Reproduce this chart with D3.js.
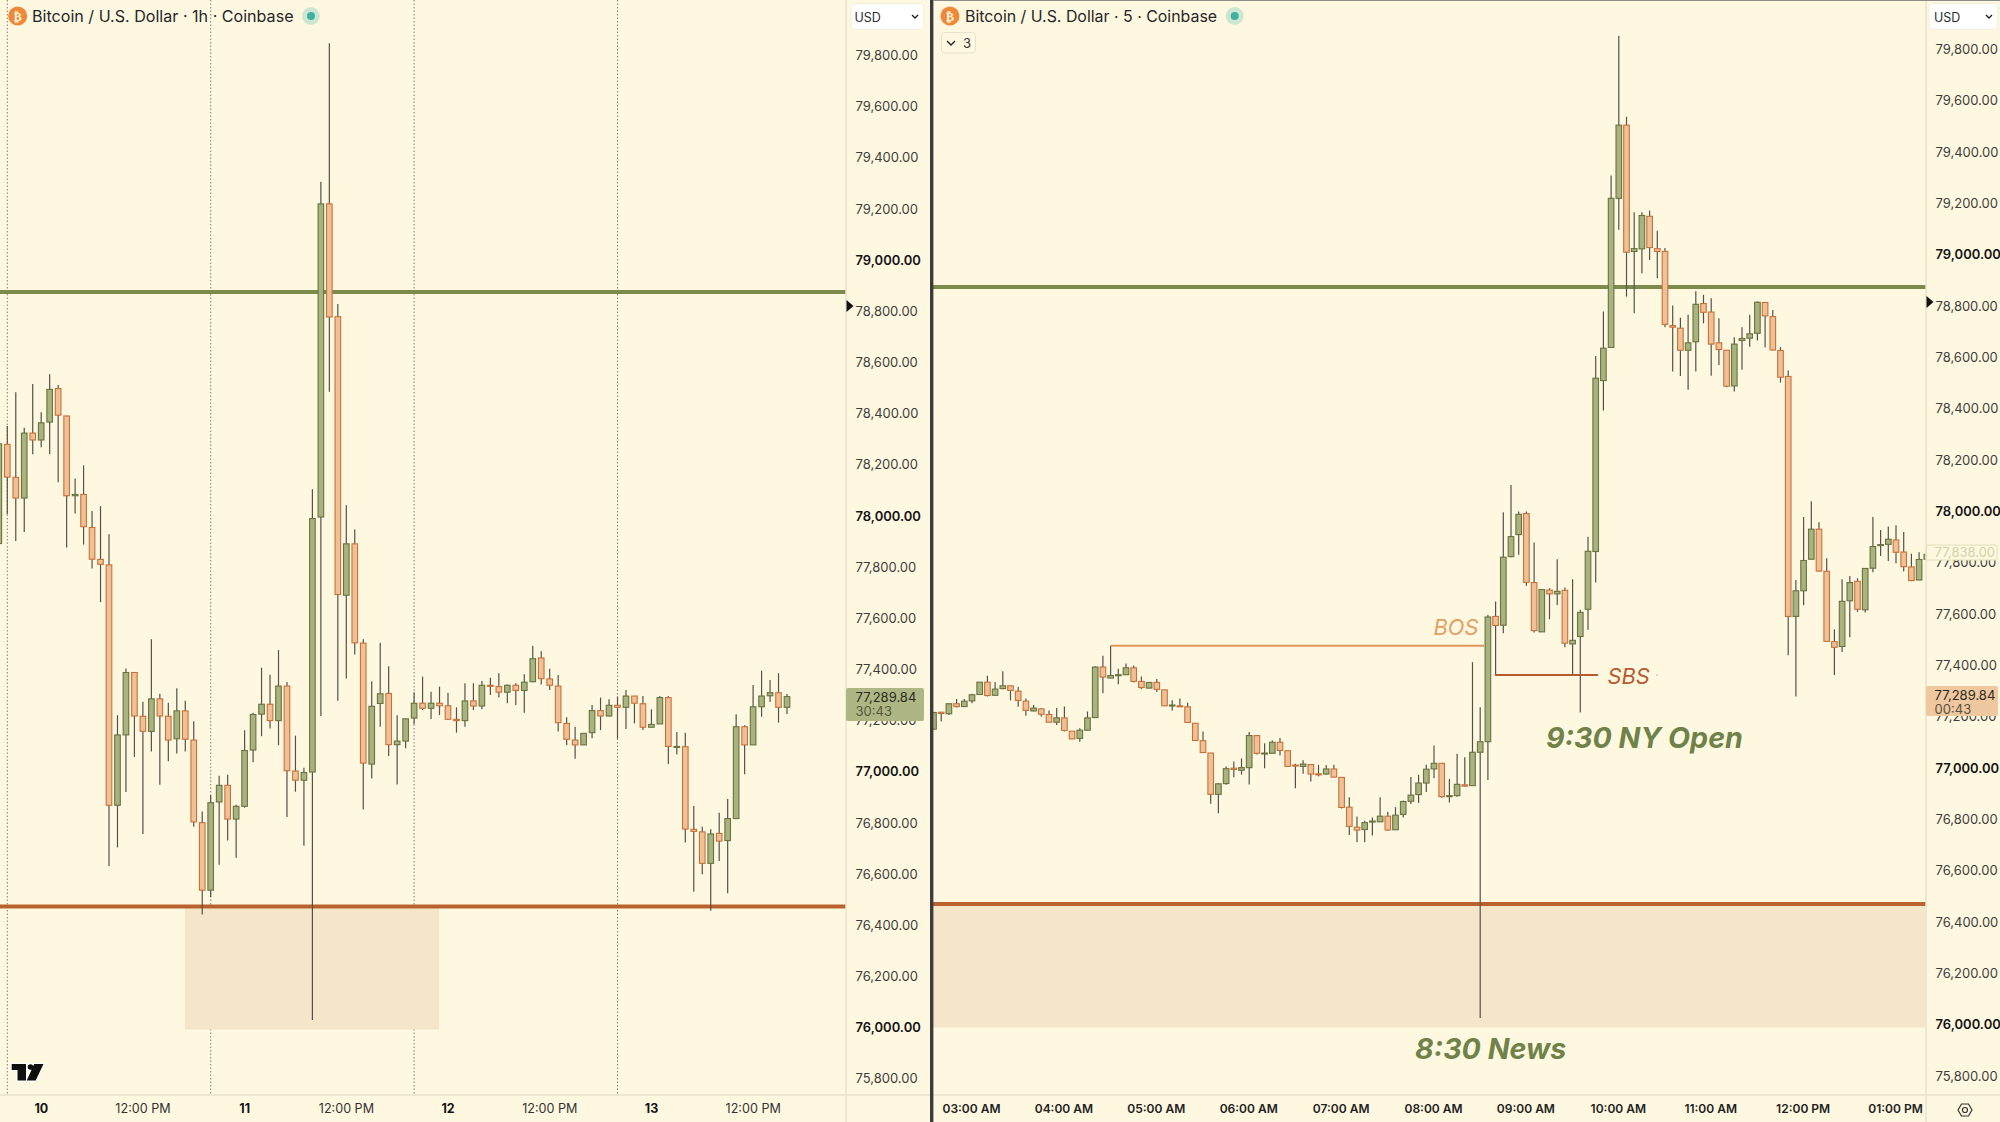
<!DOCTYPE html>
<html>
<head>
<meta charset="utf-8">
<script src="https://cdn.jsdelivr.net/npm/d3@7"></script>
<style>
  html, body { margin: 0; padding: 0; background: #fff8e0; overflow: hidden; }
  svg { display: block; font-family: Inter, "Noto Sans", sans-serif; }
</style>
</head>
<body>
<script>
// 1h candles, left pane
const hourOpen = [77888,78276,78147,78066,78320,78293,78363,78494,78387,78075,
  78080,77951,77826,77805,76865,77140,77384,77213,77154,77281,
  77213,77125,77234,77120,76797,76533,76878,76943,76811,76861,
  77081,77221,77260,77196,77331,76999,76963,76995,77992,79216,
  78775,77686,77887,77499,77026,77263,77302,77102,77116,77206,
  77264,77244,77264,77254,77201,77196,77273,77253,77334,77329,
  77307,77334,77314,77348,77441,77359,77331,77185,77120,77101,
  77149,77235,77214,77256,77248,77292,77262,77170,77183,77286,
  77094,77094,76771,76761,76638,76755,76727,76813,77172,77101,
  77250,77293,77305,77248];
const hourHigh = [78300,78348,78480,78341,78512,78401,78550,78508,78387,78142,
  78194,78015,78035,77925,77217,77400,77384,77270,77514,77301,
  77266,77322,77274,77193,76841,76904,76980,76984,76867,77158,
  77227,77403,77375,77472,77347,77137,77012,78100,79303,79844,
  78825,78038,77943,77514,77350,77500,77408,77217,77203,77307,
  77368,77309,77329,77305,77248,77342,77342,77351,77364,77381,
  77338,77342,77377,77489,77467,77399,77374,77209,77172,77146,
  77257,77286,77279,77290,77316,77292,77292,77240,77292,77292,
  77151,77149,76862,76781,76771,76836,76890,77221,77178,77335,
  77391,77355,77381,77300];
const hourLow = [77884,78003,77898,77933,78237,78265,78237,78128,77873,78006,
  77884,77791,77659,76628,76700,76917,77054,76753,77075,76945,
  77037,77067,77075,76781,76438,76506,76632,76727,76660,76855,
  77033,77135,77165,77100,76819,76918,76707,76026,77214,78482,
  77274,77361,77454,76848,76970,77172,77058,76946,77088,77182,
  77237,77202,77218,77201,77149,77172,77237,77240,77296,77286,
  77264,77257,77227,77346,77337,77316,77153,77101,77047,77101,
  77127,77159,77212,77125,77163,77185,77159,77170,77183,77026,
  77063,76719,76527,76595,76453,76647,76521,76813,76986,77101,
  77211,77269,77188,77222];
const hourClose = [78278,78148,78066,78320,78293,78360,78491,78390,78075,78080,
  77954,77827,77807,76865,77140,77384,77214,77154,77281,77214,
  77120,77234,77123,76800,76533,76875,76943,76811,76861,77079,
  77220,77260,77196,77331,77000,76963,76993,77986,79216,78774,
  77689,77887,77500,77030,77252,77301,77102,77116,77203,77264,
  77244,77264,77254,77201,77196,77273,77253,77334,77330,77307,
  77334,77314,77346,77438,77360,77334,77188,77123,77101,77146,
  77235,77214,77256,77248,77292,77264,77170,77181,77286,77095,
  77095,76772,76763,76638,76753,76725,76813,77172,77101,77250,
  77292,77305,77248,77289.84];

// 5m candles, right pane
const fiveOpen = [77150,77216,77210,77249,77238,77260,77285,77333,77282,77308,
  77319,77298,77259,77221,77229,77207,77177,77194,77142,77114,
  77146,77195,77392,77349,77361,77362,77389,77336,77310,77332,
  77303,77243,77241,77237,77173,77105,77057,76896,76938,76998,
  76990,77000,77125,77056,77056,77099,77066,77010,77005,77012,
  76976,76975,76995,76962,76846,76768,76759,76791,76789,76811,
  76758,76818,76869,76895,76940,76995,77017,76890,76891,76933,
  76930,77060,77101,77589,77555,77822,77908,77990,77721,77529,
  77692,77677,77691,77482,77511,77617,77842,78508,78637,79218,
  79503,79011,79021,79148,79022,79011,78722,78712,78626,78659,
  78808,78775,78655,78626,78487,78664,78673,78692,78812,78757,
  78625,78524,77589,77689,77812,77929,77765,77491,77472,77650,
  77726,77615,77777,77865,77870,77887,77840,77782,77731,77812];
const fiveHigh = [77215,77216,77249,77267,77267,77288,77333,77358,77334,77376,
  77319,77314,77269,77244,77232,77223,77232,77238,77142,77154,
  77219,77395,77436,77475,77385,77406,77398,77355,77334,77345,
  77303,77263,77269,77253,77173,77141,77057,76940,77005,77024,
  77036,77139,77125,77095,77106,77116,77066,77015,77029,77012,
  77011,77010,77011,76962,76885,76810,76793,76806,76885,76828,
  76846,76872,76964,76972,77011,77086,77017,76956,77054,77041,
  77411,77235,77595,77647,77995,78101,77998,77998,77877,77694,
  77699,77812,77702,77734,77615,77900,78604,78777,79307,79851,
  79536,79164,79164,79170,79092,79024,78800,78753,78764,78856,
  78842,78829,78751,78626,78677,78716,78764,78816,78812,78783,
  78638,78547,77731,77976,78038,77956,77816,77539,77734,77747,
  77738,77776,77976,77926,77939,77944,77918,77833,77839,77839];
const fiveLow = [77150,77180,77205,77234,77236,77251,77285,77277,77280,77305,
  77262,77237,77202,77219,77199,77177,77166,77141,77112,77101,
  77144,77195,77290,77349,77325,77362,77332,77306,77308,77295,
  77241,77223,77237,77176,77106,77059,76859,76822,76933,76963,
  76973,76934,77051,76998,77054,77047,77005,76920,76976,76946,
  76966,76972,76963,76841,76738,76709,76709,76736,76789,76754,
  76758,76806,76858,76862,76905,76959,76883,76864,76887,76926,
  76930,76025,76952,77360,77524,77820,77829,77709,77527,77529,
  77578,77634,77469,77360,77215,77537,77721,78391,78637,79095,
  78835,78770,78926,78978,78907,78716,78543,78526,78472,78543,
  78731,78527,78569,78482,78465,78550,78640,78664,78637,78625,
  78500,77438,77277,77633,77812,77763,77492,77361,77451,77508,
  77607,77604,77761,77825,77805,77796,77764,77726,77731,77812];
const fiveClose = [77215,77211,77249,77238,77259,77284,77333,77281,77306,77319,
  77301,77262,77223,77232,77208,77177,77194,77145,77112,77146,
  77194,77392,77353,77359,77362,77389,77336,77312,77332,77305,
  77241,77244,77237,77176,77106,77059,76896,76937,76996,76993,
  77000,77125,77056,77057,77099,77067,77005,77009,77014,76975,
  76972,76995,76963,76845,76771,76757,76786,76792,76811,76757,
  76815,76868,76893,76940,76994,77017,76887,76891,76935,76928,
  77060,77101,77587,77554,77820,77900,77987,77722,77534,77694,
  77677,77687,77485,77496,77605,77843,78517,78634,79218,79503,
  79008,79022,79151,79026,79011,78727,78716,78626,78655,78805,
  78774,78650,78629,78486,78650,78672,78690,78813,78760,78627,
  78521,77589,77689,77807,77929,77766,77492,77469,77648,77721,
  77617,77776,77861,77869,77890,77839,77783,77729,77811,77831];

const priceTicks = [75800,76000,76200,76400,76600,76800,77000,77200,77400,77600,77800,
  78000,78200,78400,78600,78800,79000,79200,79400,79600,79800];
const resistance = [78872];
const support = [76469];
const zoneBottom = [75988];
const lastPrice = [77289.84];
const ghostPrice = [77838];
const bosPrice = [77475];
const sbsPrice = [77361];

const H = 3600000;
const MIN5 = 300000;
const hourStart = Date.UTC(2025, 3, 9, 23);
const fiveStart = Date.UTC(2025, 3, 13, 2, 35);
const hourTicks = d3.range(0, 8).map(i => new Date(Date.UTC(2025, 3, 10) + i * 12 * H));
const fiveTicks = d3.range(0, 11).map(i => new Date(Date.UTC(2025, 3, 13, 3) + i * H));
const dayLines = d3.range(0, 4).map(i => new Date(Date.UTC(2025, 3, 10 + i)));

const width = 2000, height = 1122;
const bottomY = 1095;
const bg = "#fff8e0";

const svg = d3.select("body").append("svg")
  .attr("width", width).attr("height", height);
svg.append("rect").attr("width", width).attr("height", height).attr("fill", bg);

const defs = svg.append("defs");
defs.append("clipPath").attr("id", "clipL").append("rect")
  .attr("x", 0).attr("y", 0).attr("width", 846).attr("height", bottomY);
defs.append("clipPath").attr("id", "clipR").append("rect")
  .attr("x", 933).attr("y", 0).attr("width", 993).attr("height", bottomY);

// scales
const xL = d3.scaleUtc().domain([new Date(Date.UTC(2025, 3, 10)), new Date(Date.UTC(2025, 3, 11))]).range([7.3, 210.7]);
const yL = d3.scaleLinear().domain([79800, 75800]).range([54.5, 1077.7]);
const xR = d3.scaleUtc().domain([new Date(fiveStart), new Date(fiveStart + 128 * MIN5)]).range([933.5, 1919.1]);
const yR = d3.scaleLinear().domain([79800, 75800]).range([48.9, 1075.7]);

function drawCandles(g, start, step, open, high, low, close, x, y) {
  const idx = d3.range(open.length);
  const tx = i => x(new Date(start + i * step));
  g.selectAll("line.wick").data(idx).enter().append("line")
    .attr("class", "wick")
    .attr("x1", tx).attr("x2", tx)
    .attr("y1", i => y(high[i])).attr("y2", i => y(low[i]))
    .attr("stroke", "#52524a").attr("stroke-width", 1.2);
  g.selectAll("rect.body").data(idx).enter().append("rect")
    .attr("class", "body")
    .attr("x", i => tx(i) - 2.8).attr("width", 5.6)
    .attr("y", i => y(Math.max(open[i], close[i])))
    .attr("height", i => Math.max(1, Math.abs(y(open[i]) - y(close[i]))))
    .attr("fill", i => close[i] >= open[i] ? "#a9b37e" : "#eec196")
    .attr("stroke", i => close[i] >= open[i] ? "#667343" : "#c9703a")
    .attr("stroke-width", 1.1);
}

function drawPriceAxis(axisX, y, shift) {
  const ax = svg.append("g").attr("transform", `translate(${axisX},${shift})`)
    .call(d3.axisRight(y).tickValues(priceTicks).tickSize(0).tickPadding(9.5).tickFormat(d3.format(",.2f")));
  ax.select(".domain").remove();
  ax.selectAll("text")
    .attr("font-family", "Inter").attr("font-size", 13)
    .attr("fill", d => d % 1000 === 0 ? "#131313" : "#3d3d3d")
    .attr("font-weight", d => d % 1000 === 0 ? 600 : 400);
}

function drawHeader(label, iconX, textX, dotX, size) {
  svg.append("circle").attr("cx", iconX).attr("cy", 16).attr("r", 9.5).attr("fill", "#f0883a");
  svg.append("text").attr("x", iconX).attr("y", 20.5).attr("text-anchor", "middle")
    .attr("font-family", "DejaVu Sans").attr("font-weight", 700).attr("font-size", 12)
    .attr("fill", "#fff8e0").text("\u20bf");
  svg.append("text").attr("x", textX).attr("y", 22).attr("font-size", size).attr("fill", "#26262a").text(label);
  svg.append("circle").attr("cx", dotX).attr("cy", 16).attr("r", 9).attr("fill", "#cfe6d3");
  svg.append("circle").attr("cx", dotX).attr("cy", 16).attr("r", 4).attr("fill", "#3cb3a0");
}

function drawUsd(x0, x1, tx) {
  svg.append("rect").attr("x", x0).attr("y", 3.5).attr("width", x1 - x0).attr("height", 26)
    .attr("rx", 4).attr("fill", "#ffffff").attr("stroke", "#f3eeda");
  svg.append("text").attr("x", tx).attr("y", 22).attr("font-size", 12.5).attr("fill", "#2f2f33").text("USD");
  svg.append("path").attr("d", `M${x1 - 12},15l3,3l3,-3`).attr("fill", "none").attr("stroke", "#222").attr("stroke-width", 1.4);
}

function drawTag(x0, x1, y0, y1, fill, tx, time, timeFill) {
  svg.append("rect").attr("x", x0).attr("y", y0).attr("width", x1 - x0).attr("height", y1 - y0)
    .attr("rx", 2).attr("fill", fill);
  svg.append("text").attr("x", tx).attr("y", y0 + 14).attr("font-size", 13).attr("fill", "#2b2b22")
    .text(d3.format(",.2f")(lastPrice[0]));
  svg.append("text").attr("x", tx).attr("y", y0 + 28).attr("font-size", 13).attr("fill", timeFill).text(time);
}

// left pane
const left = svg.append("g").attr("clip-path", "url(#clipL)");
left.selectAll("line.day").data(dayLines).enter().append("line")
  .attr("class", "day")
  .attr("x1", d => xL(d)).attr("x2", d => xL(d))
  .attr("y1", 0).attr("y2", bottomY)
  .attr("stroke", "#7f7f70").attr("stroke-width", 1).attr("stroke-dasharray", "1.5,2");
left.append("rect")
  .attr("x", 185).attr("width", 254)
  .attr("y", yL(support[0])).attr("height", yL(zoneBottom[0]) - yL(support[0]))
  .attr("fill", "#f5e6c9");
left.append("line").attr("x1", 0).attr("x2", 846).attr("y1", yL(resistance[0])).attr("y2", yL(resistance[0]))
  .attr("stroke", "#7c8b4b").attr("stroke-width", 4);
left.append("line").attr("x1", 0).attr("x2", 846).attr("y1", yL(support[0])).attr("y2", yL(support[0]))
  .attr("stroke", "#b9622e").attr("stroke-width", 4);
drawCandles(left, hourStart, H, hourOpen, hourHigh, hourLow, hourClose, xL, yL);

// right pane
const right = svg.append("g").attr("clip-path", "url(#clipR)");
right.append("rect")
  .attr("x", 933).attr("width", 993)
  .attr("y", yR(support[0])).attr("height", yR(zoneBottom[0]) - yR(support[0]))
  .attr("fill", "#f5e6c9");
right.append("line").attr("x1", 933).attr("x2", 1926).attr("y1", yR(resistance[0])).attr("y2", yR(resistance[0]))
  .attr("stroke", "#7c8b4b").attr("stroke-width", 4);
right.append("line").attr("x1", 933).attr("x2", 1926).attr("y1", yR(support[0])).attr("y2", yR(support[0]))
  .attr("stroke", "#b9622e").attr("stroke-width", 4);
drawCandles(right, fiveStart, MIN5, fiveOpen, fiveHigh, fiveLow, fiveClose, xR, yR);

// BOS / SBS drawings
const t5 = i => xR(new Date(fiveStart + i * MIN5));
right.append("line").attr("x1", t5(23)).attr("x2", t5(71.5)).attr("y1", yR(bosPrice[0])).attr("y2", yR(bosPrice[0]))
  .attr("stroke", "#e0975a").attr("stroke-width", 2);
right.append("line").attr("x1", t5(72.9)).attr("x2", t5(86.3)).attr("y1", yR(sbsPrice[0])).attr("y2", yR(sbsPrice[0]))
  .attr("stroke", "#b85a30").attr("stroke-width", 2);
svg.append("text").attr("x", 1433.5).attr("y", 635).attr("font-size", 21.8).attr("font-style", "italic")
  .attr("fill", "#e3a066").text("BOS");
svg.append("text").attr("x", 1607.5).attr("y", 684).attr("font-size", 21.8).attr("font-style", "italic")
  .attr("fill", "#b85a30").text("SBS");
svg.append("circle").attr("cx", 1657).attr("cy", 675).attr("r", 0.7).attr("fill", "#c98a66");
svg.append("text").attr("x", 1546).attr("y", 748).attr("font-size", 28.6).attr("font-weight", 700).attr("font-style", "italic")
  .attr("fill", "#6f8349").text("9:30 NY Open");
svg.append("text").attr("x", 1415).attr("y", 1059).attr("font-size", 28.6).attr("font-weight", 700).attr("font-style", "italic")
  .attr("fill", "#6f8349").text("8:30 News");

// axis frames
const frame = "#e9e3cd";
svg.append("line").attr("x1", 846).attr("x2", 846).attr("y1", 0).attr("y2", height).attr("stroke", frame).attr("stroke-width", 1.5);
svg.append("line").attr("x1", 1926).attr("x2", 1926).attr("y1", 0).attr("y2", height).attr("stroke", frame).attr("stroke-width", 1.5);
svg.append("line").attr("x1", 0).attr("x2", 931).attr("y1", bottomY).attr("y2", bottomY).attr("stroke", frame).attr("stroke-width", 1.5);
svg.append("line").attr("x1", 933).attr("x2", 2000).attr("y1", bottomY).attr("y2", bottomY).attr("stroke", frame).attr("stroke-width", 1.5);

drawPriceAxis(846, yL, 1);
drawPriceAxis(1926, yR, 0.4);

// time axes
const fmtHour = d => d.getUTCHours() === 0 ? String(d.getUTCDate()) : "12:00 PM";
const axisL = svg.append("g").attr("transform", `translate(33.5,${bottomY})`)
  .call(d3.axisBottom(xL).tickValues(hourTicks).tickSize(0).tickPadding(9.5).tickFormat(fmtHour));
axisL.select(".domain").remove();
axisL.selectAll("text")
  .attr("font-family", "Inter").attr("font-size", d => d.getUTCHours() === 0 ? 12.5 : 12.6)
  .attr("font-weight", d => d.getUTCHours() === 0 ? 700 : 400)
  .attr("fill", d => d.getUTCHours() === 0 ? "#131313" : "#333333");

const fmtFive = d3.utcFormat("%I:%M %p");
const axisR = svg.append("g").attr("transform", `translate(-1,${bottomY})`)
  .call(d3.axisBottom(xR).tickValues(fiveTicks).tickSize(0).tickPadding(9.5).tickFormat(fmtFive));
axisR.select(".domain").remove();
axisR.selectAll("text")
  .attr("font-family", "Inter").attr("font-size", 12).attr("font-weight", 600).attr("fill", "#222222");

// price tags
drawTag(846, 924, 688, 721, "#aeb784", 855.6, "30:43", "#55583f");
drawTag(1926, 1998, 686, 716, "#efc89f", 1934.6, "00:43", "#5a5040");
svg.append("rect").attr("x", 1926.5).attr("y", yR(ghostPrice[0]) - 7.5).attr("width", 70.5).attr("height", 15)
  .attr("rx", 1).attr("fill", bg).attr("stroke", "#dfe2b9");
svg.append("text").attr("x", 1934.6).attr("y", yR(ghostPrice[0]) + 4.5).attr("font-size", 13).attr("fill", "#cfd4a9")
  .text(d3.format(",.2f")(ghostPrice[0]));

// last price arrows
svg.append("path").attr("d", `M846.5,${yL(resistance[0]) + 8}l7,6l-7,6z`).attr("fill", "#111");
svg.append("path").attr("d", `M1926.5,${yR(resistance[0]) + 9}l7,6l-7,6z`).attr("fill", "#111");

// headers and small controls
drawHeader("Bitcoin / U.S. Dollar \u00b7 1h \u00b7 Coinbase", 17.7, 32, 311, 16.1);
drawHeader("Bitcoin / U.S. Dollar \u00b7 5 \u00b7 Coinbase", 950, 965, 1234.7, 15.9);
drawUsd(851, 924, 854.5);
drawUsd(1929, 1998, 1934);

svg.append("rect").attr("x", 941.5).attr("y", 32.5).attr("width", 34).attr("height", 20.5)
  .attr("rx", 3).attr("fill", bg).attr("stroke", "#e8e2cd");
svg.append("path").attr("d", "M947,41l4,4l4,-4").attr("fill", "none").attr("stroke", "#222").attr("stroke-width", 1.4);
svg.append("text").attr("x", 963).attr("y", 48).attr("font-size", 13).attr("fill", "#333").text("3");

// TradingView mark
svg.append("g").attr("transform", "translate(11.7,1064)")
  .append("path")
  .attr("d", "M0 0H14.3V16.5H5.8V6H0ZM22.5 0H31.8L24 16.5H15ZM21.6 3a2.8 2.8 0 1 1 -5.6 0a2.8 2.8 0 1 1 5.6 0Z")
  .attr("fill", "#0f0f0f").attr("stroke", "#ffffff").attr("stroke-width", 2).attr("paint-order", "stroke");

// settings icon, bottom right
svg.append("path").attr("d", "M1958,1110l3.5,-6h7l3.5,6l-3.5,6h-7z").attr("fill", "none").attr("stroke", "#333").attr("stroke-width", 1.2);
svg.append("circle").attr("cx", 1965).attr("cy", 1110).attr("r", 2.5).attr("fill", "none").attr("stroke", "#333").attr("stroke-width", 1.2);

// pane split and top edge
svg.append("rect").attr("x", 930).attr("y", 0).attr("width", 3.4).attr("height", height).attr("fill", "#3c3c40");
svg.append("rect").attr("x", 933).attr("y", 0).attr("width", 1067).attr("height", 1).attr("fill", "#8c8c86");
</script>
</body>
</html>
